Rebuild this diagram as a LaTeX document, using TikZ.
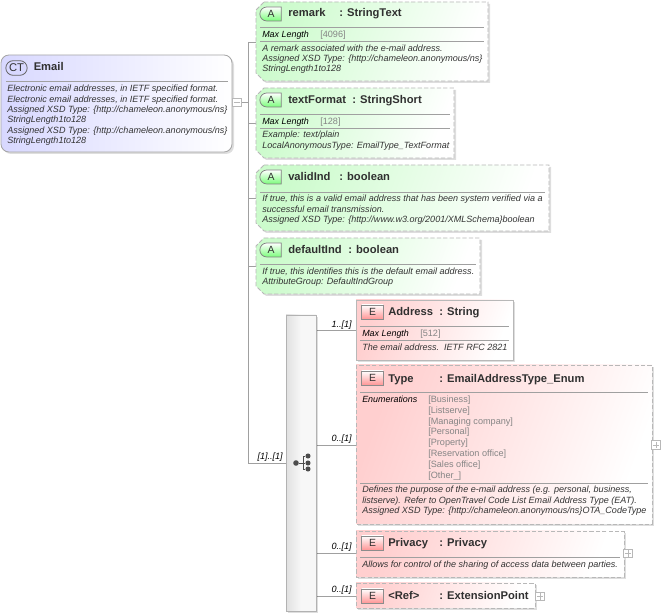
\documentclass[tikz,border=0pt]{standalone}
\usepackage{fontspec}
\setmainfont{Liberation Sans}
\usetikzlibrary{shapes.misc,calc}
\definecolor{ttl}{HTML}{303030}
\definecolor{dsc}{HTML}{333333}
\definecolor{brd}{HTML}{B8B8B8}
\definecolor{lin}{HTML}{A0A0A0}
\definecolor{enumc}{HTML}{858585}
\definecolor{grn}{HTML}{CCFBCC}
\definecolor{red1}{HTML}{FFCFCF}
\definecolor{blu}{HTML}{D8D8FF}
\tikzset{
 x=0.75pt,y=-0.75pt,
 conn/.style={draw=lin,line width=0.55pt},
 rule/.style={draw=lin,line width=0.55pt},
 shad/.style={fill=black,fill opacity=0.13,draw=none},
 dashedb/.style={draw=brd,line width=0.65pt,dash pattern=on 3.2pt off 1.6pt},
 solidb/.style={draw=brd,line width=0.65pt},
 grnf/.style={left color=grn,middle color=grn!30!white,right color=white,shading angle=70},
 redf/.style={left color=red1,middle color=red1!35!white,right color=white,shading angle=70},
 title/.style={anchor=base west,inner sep=0pt,text=ttl,font=\fontsize{8.4}{10}\selectfont\bfseries},
 desc/.style={anchor=north west,inner sep=0pt,align=left,text=dsc,font=\fontsize{6.78}{7.75}\selectfont\itshape},
 keyl/.style={anchor=base west,inner sep=0pt,text=black,font=\fontsize{6.7}{8}\selectfont\itshape},
 val/.style={anchor=north west,inner sep=0pt,align=left,text=enumc,font=\fontsize{6.85}{8.15}\selectfont},
 occ/.style={anchor=base east,inner sep=0pt,text=black,font=\fontsize{6.8}{8}\selectfont\itshape},
 badgeA/.style={rounded rectangle,rounded rectangle right arc=none,minimum width=16pt,minimum height=10.5pt,inner sep=0pt,draw=black!50,line width=0.55pt,top color=white,bottom color=green!40!grn,text=ttl,font=\fontsize{7.8}{8}\selectfont},
 badgeE/.style={rectangle,minimum width=16pt,minimum height=10.5pt,inner sep=0pt,draw=black!45,line width=0.55pt,bottom color=red!28!red1,top color=white,text=ttl,font=\fontsize{7.8}{8}\selectfont},
 badgeC/.style={rounded rectangle,minimum width=16pt,minimum height=11pt,inner sep=0pt,draw=black!60,line width=0.6pt,fill=blu,text=ttl,font=\fontsize{8.4}{9}\selectfont},
 togg/.style={rectangle,minimum size=6.4pt,inner sep=0pt,draw=brd,line width=0.5pt,fill=white},
}
% #1 border style, #2 fill style, #3 name, #4-#7 x1 y1 x2 y2
\newcommand{\cutbox}[7]{%
 \fill[shad] ({#4+8+2},{#5+2})--({#6+2},{#5+2})--({#6+2},{#7+2})--({#4+8+2},{#7+2})--({#4+2},{#7-8+2})--({#4+2},{#5+8+2})--cycle;
 \path[#1,#2] ({#4+8},#5)--(#6,#5)--(#6,#7)--({#4+8},#7)--(#4,{#7-8})--(#4,{#5+8})--cycle;
 \node[inner sep=0pt,minimum width={(#6-#4)*0.75pt},minimum height={(#7-#5)*0.75pt}] (#3) at ({(#4+#6)/2},{(#5+#7)/2}) {};}
\newcommand{\plainbox}[7]{%
 \fill[shad] ({#4+2},{#5+2}) rectangle ({#6+2},{#7+2});
 \path[#1,#2] (#4,#5) rectangle (#6,#7);
 \node[inner sep=0pt,minimum width={(#6-#4)*0.75pt},minimum height={(#7-#5)*0.75pt}] (#3) at ({(#4+#6)/2},{(#5+#7)/2}) {};}
\newcommand{\plusmark}[1]{\draw[draw=brd,line width=0.5pt] ($(#1.west)+(1.5,0)$)--($(#1.east)+(-1.5,0)$) ($(#1.north)+(0,1.5)$)--($(#1.south)+(0,-1.5)$);}
\begin{document}
\begin{tikzpicture}
\useasboundingbox[fill=white] (0,0) rectangle (662,616);

% connectors
\coordinate (trunktop) at (248,42);
\coordinate (trunkbot) at (248,463);
\coordinate (remarkport) at (256,42);
\coordinate (formatport) at (256,123);
\coordinate (validport) at (256,198);
\coordinate (defaultport) at (256,266);
\coordinate (seqport) at (286,463);
\coordinate (seqaddr) at (316,330);
\coordinate (seqtype) at (316,445);
\coordinate (seqpriv) at (316,553);
\coordinate (seqref) at (316,596);
\coordinate (addrport) at (356,330);
\coordinate (typeport) at (356,445);
\coordinate (privport) at (356,553);
\coordinate (refport) at (356,596);
\coordinate (emailport) at (248,102.5);

\draw[conn] (trunktop)--(trunkbot);
\draw[conn] (trunktop)--(remarkport);
\draw[conn] (trunktop |- formatport)--(formatport);
\draw[conn] (trunktop |- validport)--(validport);
\draw[conn] (trunktop |- defaultport)--(defaultport);
\draw[conn] (trunkbot)--(seqport);
\draw[conn] (seqaddr)--(addrport);
\draw[conn] (seqtype)--(typeport);
\draw[conn] (seqpriv)--(privport);
\draw[conn] (seqref)--(refport);

% Email
\fill[shad,rounded corners=6pt] (3,57) rectangle (234,154);
\path[draw=black!35,line width=0.65pt,left color=blu,middle color=blu!45!white,right color=white,rounded corners=6pt] (1,55) rectangle (232,152);
\node[inner sep=0pt,minimum width=173.25pt,minimum height=72.75pt] (email) at (116.5,103.5) {};
\node[badgeC] (emailbadge) at (16.5,68) {CT};
\node[title] (emailname) at (33.5,71) {Email};
\draw[rule] (6,81)--(228,81);
\node[desc] (emaildesc) at (7,85) {Electronic email addresses, in IETF specified format.\\Electronic email addresses, in IETF specified format.\\Assigned XSD Type: \{http://chameleon.anonymous/ns\}\\StringLength1to128\\Assigned XSD Type: \{http://chameleon.anonymous/ns\}\\StringLength1to128};
\node[togg] (emailtog) at (237,102.5) {};
\draw[draw=brd,line width=0.5pt] ($(emailtog.west)+(1.5,0)$)--($(emailtog.east)+(-1.5,0)$);
\draw[conn] (emailtog.east)--(emailport);

% remark
\cutbox{dashedb}{grnf}{remark}{256}{2}{488}{81}
\node[badgeA] (remarkbadge) at (271,14) {A};
\node[title] (remarkname) at (288,17) {remark};
\node[title] (remarktype) at (339,17) {: StringText};
\draw[rule] (260,27)--(484,27);
\node[keyl] (remarkkey) at (262,38) {Max Length};
\node[val,anchor=base west] (remarkval) at (320,38) {[4096]};
\draw[rule] (260,41)--(484,41);
\node[desc] (remarkdesc) at (262,44.5) {A remark associated with the e-mail address.\\Assigned XSD Type: \{http://chameleon.anonymous/ns\}\\StringLength1to128};

% textFormat
\cutbox{dashedb}{grnf}{format}{256}{88}{454}{158}
\node[badgeA] (formatbadge) at (271,100) {A};
\node[title] (formatname) at (288,104) {textFormat};
\node[title] (formattype) at (352,104) {: StringShort};
\draw[rule] (260,114)--(450,114);
\node[keyl] (formatkey) at (262,125) {Max Length};
\node[val,anchor=base west] (formatval) at (320,125) {[128]};
\draw[rule] (260,128)--(450,128);
\node[desc] (formatdesc) at (262,131) {Example: text/plain\\LocalAnonymousType: EmailType\_TextFormat};

% validInd
\cutbox{dashedb}{grnf}{valid}{256}{165}{549}{231}
\node[badgeA] (validbadge) at (271,177) {A};
\node[title] (validname) at (288,181) {validInd};
\node[title] (validtype) at (339,181) {: boolean};
\draw[rule] (260,192)--(545,192);
\node[desc] (validdesc) at (262,195) {If true, this is a valid email address that has been system verified via a\\successful email transmission.\\Assigned XSD Type: \{http://www.w3.org/2001/XMLSchema\}boolean};

% defaultInd
\cutbox{dashedb}{grnf}{default}{256}{238}{480}{294}
\node[badgeA] (defaultbadge) at (271,250) {A};
\node[title] (defaultname) at (288,254) {defaultInd};
\node[title] (defaulttype) at (348,254) {: boolean};
\draw[rule] (260,264)--(476,264);
\node[desc] (defaultdesc) at (262,267.5) {If true, this identifies this is the default email address.\\AttributeGroup: DefaultIndGroup};

% sequence
\fill[shad] (288,317) rectangle (318,613);
\path[draw=black!30,line width=0.6pt,left color=black!12,right color=black!3,middle color=black!3] (286,315) rectangle (316,611);
\node[inner sep=0pt,minimum width=22.5pt,minimum height=222pt] (seq) at (301,463) {};
\node[occ] (seqocc) at (283,460) {[1]..[1]};
% icon
\node[circle,fill=black!70,inner sep=0pt,minimum size=4.2pt] (icon) at (296,463) {};
\node[circle,fill=black!70,inner sep=0pt,minimum size=3.8pt] (icona) at (308,456) {};
\node[circle,fill=black!70,inner sep=0pt,minimum size=3.8pt] (iconb) at (308,463) {};
\node[circle,fill=black!70,inner sep=0pt,minimum size=3.8pt] (iconc) at (308,469) {};
\draw[black!70,line width=0.6pt] (icon)--(iconb) (icona)-|(303,463) (iconc)-|(303,463);

% Address
\plainbox{solidb}{redf}{address}{356}{300}{513}{360}
\node[badgeE] (addrbadge) at (372.5,312) {E};
\node[title] (addrname) at (388,316) {Address};
\node[title] (addrtype) at (439,316) {: String};
\draw[rule] (360,326)--(509,326);
\node[keyl] (addrkey) at (362,337) {Max Length};
\node[val,anchor=base west] (addrval) at (420,337) {[512]};
\draw[rule] (360,340)--(509,340);
\node[desc] (addrdesc) at (362,343.5) {The email address.\ \ IETF RFC 2821};
\node[occ] (addrocc) at (352,327.5) {1..[1]};

% Type
\plainbox{dashedb}{redf}{type}{356}{365}{652}{524}
\node[badgeE] (typebadge) at (372.5,378) {E};
\node[title] (typename) at (388,383) {Type};
\node[title] (typetype) at (439,383) {: EmailAddressType\_Enum};
\draw[rule] (360,392)--(648,392);
\node[keyl] (typekey) at (362,403) {Enumerations};
\node[val] (typeval) at (428,395.5) {[Business]\\{}[Listserve]\\{}[Managing company]\\{}[Personal]\\{}[Property]\\{}[Reservation office]\\{}[Sales office]\\{}[Other\_]};
\draw[rule] (360,483)--(648,483);
\node[desc] (typedesc) at (362,486) {Defines the purpose of the e-mail address (e.g. personal, business,\\listserve). Refer to OpenTravel Code List Email Address Type (EAT).\\Assigned XSD Type: \{http://chameleon.anonymous/ns\}OTA\_CodeType};
\node[occ] (typeocc) at (352,442) {0..[1]};
\node[togg] (typetog) at (656,445) {};
\plusmark{typetog}

% Privacy
\plainbox{dashedb}{redf}{privacy}{356}{531}{624}{577}
\node[badgeE] (privbadge) at (372.5,543) {E};
\node[title] (privname) at (388,547) {Privacy};
\node[title] (privtype) at (439,547) {: Privacy};
\draw[rule] (360,557)--(620,557);
\node[desc] (privdesc) at (362,560.5) {Allows for control of the sharing of access data between parties.};
\node[occ] (privocc) at (352,550) {0..[1]};
\node[togg] (privtog) at (628,553.5) {};
\plusmark{privtog}

% Ref
\plainbox{dashedb}{redf}{ref}{356}{583}{535}{608}
\node[badgeE] (refbadge) at (372.5,596) {E};
\node[title] (refname) at (388,599.5) {<Ref>};
\node[title] (reftype) at (439,599.5) {: ExtensionPoint};
\node[occ] (refocc) at (352,592.5) {0..[1]};
\node[togg] (reftog) at (540,596.5) {};
\plusmark{reftog}
\end{tikzpicture}
\end{document}
